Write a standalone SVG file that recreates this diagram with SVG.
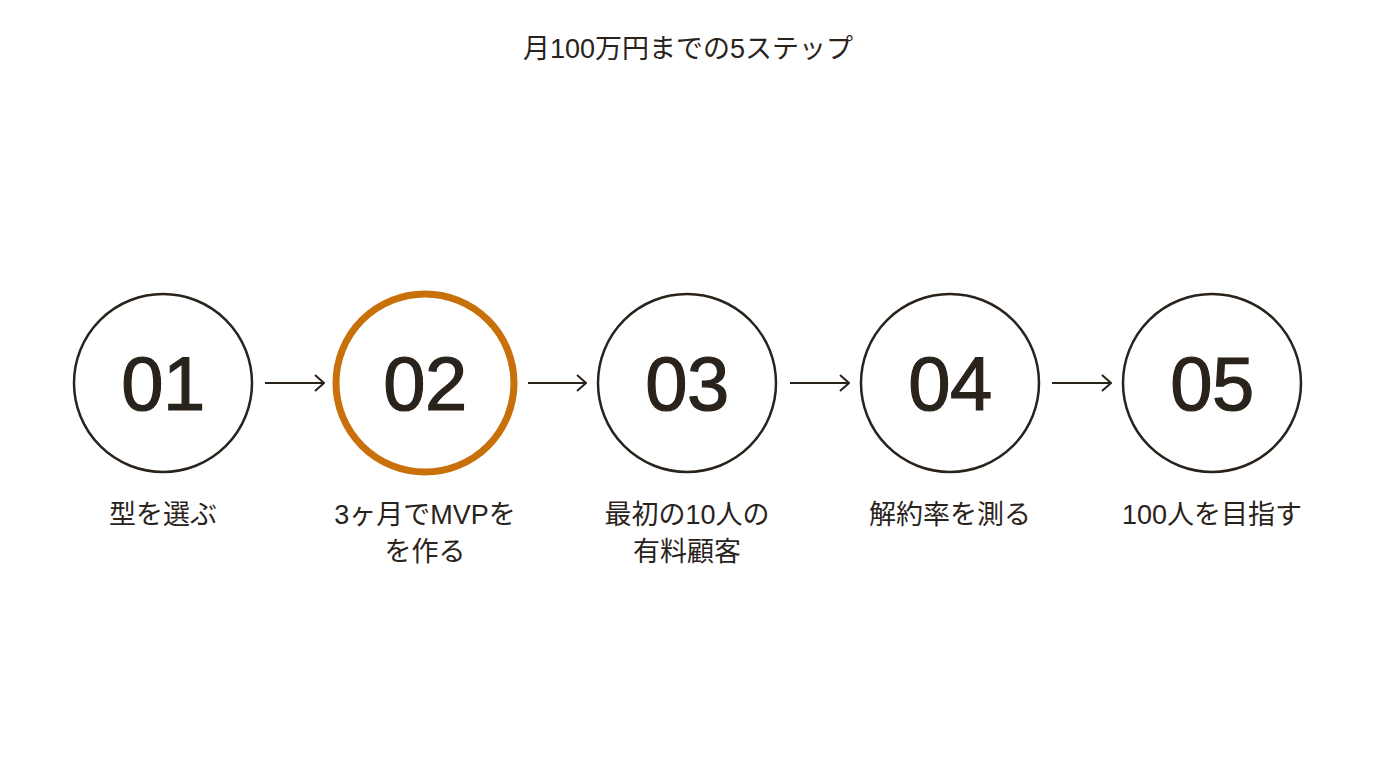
<svg xmlns="http://www.w3.org/2000/svg" width="1376" height="768" viewBox="0 0 1376 768">
<defs>
<marker id="arr" viewBox="0 0 12 18" refX="11" refY="9" markerWidth="12" markerHeight="18" markerUnits="userSpaceOnUse" orient="auto">
<path d="M2 1 L11 9 L2 17" fill="none" stroke="#2a231c" stroke-width="2"/>
</marker>
</defs>
<style>
.c{fill:#fff;stroke:#2a231c;stroke-width:2.5}
.hi{fill:#fff;stroke:#c8700a;stroke-width:7}
.n{font-family:"Liberation Sans",sans-serif;font-size:76px;letter-spacing:-0.5px;fill:#2a231c;stroke:#2a231c;stroke-width:1.2;text-anchor:middle}
.l{font-family:"Liberation Sans","Noto Sans CJK JP",sans-serif;font-size:27px;fill:#2a231c;text-anchor:middle}
.t{font-family:"Liberation Sans","Noto Sans CJK JP",sans-serif;font-size:27px;fill:#2a231c;text-anchor:middle}
.a{stroke:#2a231c;stroke-width:2;fill:none}
</style>
<rect width="1376" height="768" fill="#fff"/>
<text class="t" x="688" y="58">月100万円までの5ステップ</text>
<g id="connectors">
<line class="a" x1="265" y1="383" x2="324" y2="383" marker-end="url(#arr)"/>
<line class="a" x1="528" y1="383" x2="586" y2="383" marker-end="url(#arr)"/>
<line class="a" x1="790" y1="383" x2="849" y2="383" marker-end="url(#arr)"/>
<line class="a" x1="1052" y1="383" x2="1111" y2="383" marker-end="url(#arr)"/>
</g>
<g id="step1">
<circle class="c" cx="163" cy="383" r="89"/>
<text class="n" x="163" y="410">01</text>
<text class="l" x="163" y="524">型を選ぶ</text>
</g>
<g id="step2">
<circle class="hi" cx="425" cy="383" r="89"/>
<text class="n" x="425" y="410">02</text>
<text class="l" x="425" y="524">3ヶ月でMVPを</text>
<text class="l" x="425" y="561">を作る</text>
</g>
<g id="step3">
<circle class="c" cx="687" cy="383" r="89"/>
<text class="n" x="687" y="410">03</text>
<text class="l" x="687" y="524">最初の10人の</text>
<text class="l" x="687" y="561">有料顧客</text>
</g>
<g id="step4">
<circle class="c" cx="950" cy="383" r="89"/>
<text class="n" x="950" y="410">04</text>
<text class="l" x="950" y="524">解約率を測る</text>
</g>
<g id="step5">
<circle class="c" cx="1212" cy="383" r="89"/>
<text class="n" x="1212" y="410">05</text>
<text class="l" x="1212" y="524">100人を目指す</text>
</g>
</svg>
